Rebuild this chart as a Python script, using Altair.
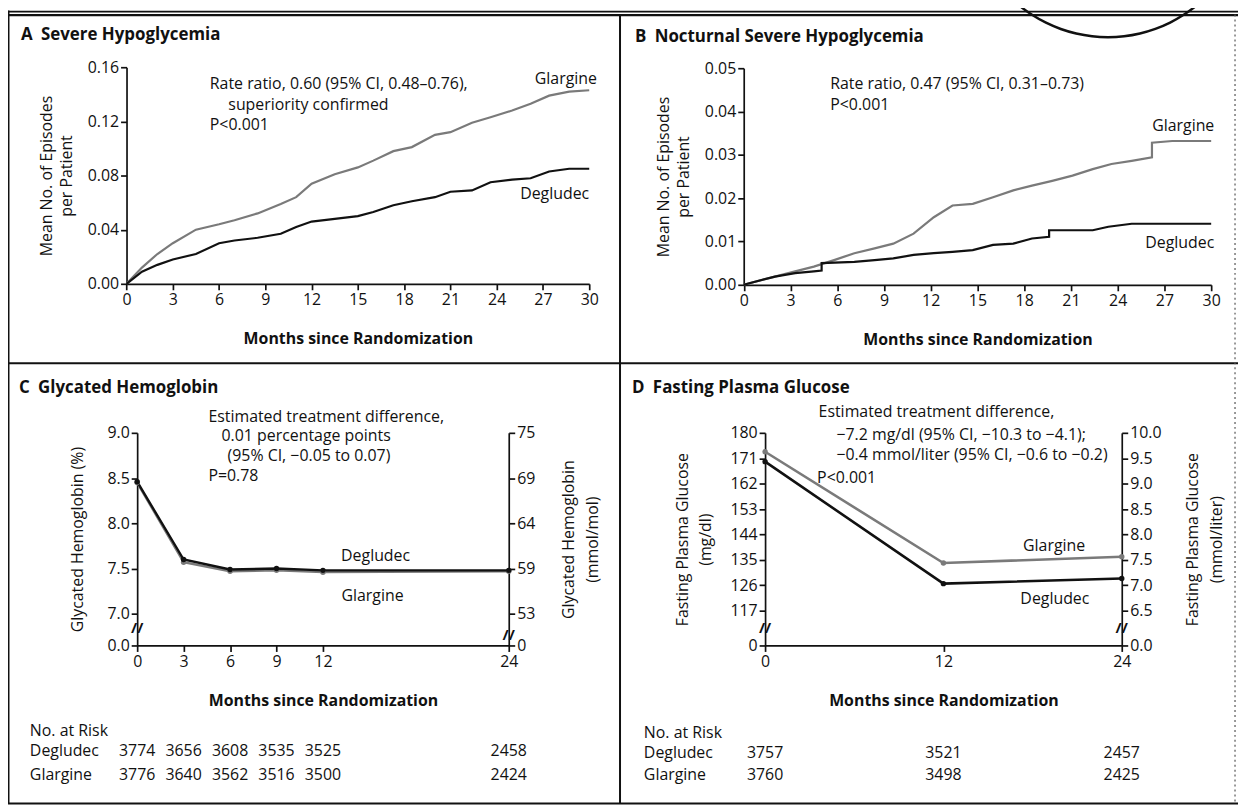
import altair as alt
import pandas as pd

FONT = "Open Sans"
W, H = 1238, 802
INK = "#111111"

# ---------------- data ----------------
A_months = [0, 1, 2, 3, 4.5, 6, 7, 8.5, 10, 11, 12, 13.5, 15, 16, 17.3, 18.5, 20, 21, 22.4, 23.6, 25, 26.2, 27.4, 28.7, 30]
A_glargine = [0, 0.012, 0.022, 0.030, 0.040, 0.044, 0.047, 0.052, 0.059, 0.064, 0.074, 0.081, 0.086, 0.091, 0.098,
              0.101, 0.110, 0.112, 0.119, 0.123, 0.128, 0.133, 0.139, 0.142, 0.143]
A_degludec = [0, 0.009, 0.014, 0.018, 0.022, 0.030, 0.032, 0.034, 0.037, 0.042, 0.046, 0.048, 0.050, 0.053, 0.058,
              0.061, 0.064, 0.068, 0.069, 0.075, 0.077, 0.078, 0.083, 0.085, 0.085]

B_months_gla = [0, 2, 3.3, 4.5, 5.8, 7.1, 8.4, 9.6, 10.9, 12.2, 13.4, 14.7, 16, 17.3, 18.5, 19.8, 21.1, 22.4, 23.6,
                24.9, 26.2, 26.2, 27.5, 30]
B_glargine = [0, 0.0019, 0.0031, 0.0042, 0.0057, 0.0073, 0.0084, 0.0095, 0.0118, 0.0156, 0.0183, 0.0187, 0.0202,
              0.0218, 0.0229, 0.0240, 0.0252, 0.0267, 0.0279, 0.0286, 0.0294, 0.0328, 0.0332, 0.0332]
B_months_deg = [0, 2, 3.3, 4.5, 5.0, 5.0, 7.1, 8.4, 9.6, 10.9, 12.2, 13.4, 14.7, 16, 17.3, 18.5, 19.6, 19.6, 22.4,
                23.4, 24.9, 30]
B_degludec = [0, 0.0019, 0.0027, 0.0031, 0.0033, 0.0050, 0.0053, 0.0057, 0.0061, 0.0069, 0.0073, 0.0076, 0.0080,
              0.0092, 0.0095, 0.0107, 0.0111, 0.0126, 0.0126, 0.0134, 0.0141, 0.0141]

C_months = [0, 3, 6, 9, 12, 24]
C_degludec = [8.46, 7.60, 7.49, 7.50, 7.48, 7.48]
C_glargine = [8.45, 7.57, 7.47, 7.48, 7.46, 7.47]

D_months = [0, 12, 24]
D_degludec = [169.8, 126.6, 128.4]
D_glargine = [173.3, 133.9, 136.1]

C_risk_months = [0, 3, 6, 9, 12, 24]
C_risk_degludec = [3774, 3656, 3608, 3535, 3525, 2458]
C_risk_glargine = [3776, 3640, 3562, 3516, 3500, 2424]
D_risk_months = [0, 12, 24]
D_risk_degludec = [3757, 3521, 2457]
D_risk_glargine = [3760, 3498, 2425]

GROUPS = ["Degludec", "Glargine"]
COLORS = ["#111111", "#7a7a7a"]

TXT = 16      # annotation / label size
TITLE = 17    # panel title size


def long_df(series):
    rows = []
    for name, ms, vs in series:
        for i, (m, v) in enumerate(zip(ms, vs)):
            rows.append({"month": m, "value": v, "group": name, "idx": i})
    return pd.DataFrame(rows)


def risk_df(months, counts):
    return pd.DataFrame({"month": months, "n": counts})


ONE = alt.Data(values=[{"k": 0}])

AX = dict(domainColor=INK, domainWidth=1.7, tickColor=INK, tickWidth=1.7, tickSize=6,
          labelFont=FONT, labelFontSize=TXT, labelColor=INK, labelPadding=2,
          titleFont=FONT, titleFontSize=TXT, titleColor=INK,
          grid=False, labelFlush=False, labelOverlap=False)

COLOR = alt.Color("group:N", scale=alt.Scale(domain=GROUPS, range=COLORS), legend=None)


def scale(dom, rng):
    return alt.Scale(domain=dom, range=rng, nice=False, zero=False)


def xaxis(values, offset):
    return alt.Axis(values=values, orient="bottom", offset=offset, format="d",
                    title="Months since Randomization", titlePadding=23, titleFontWeight="bold", **AX)


def ann(sx, sy, lines, x, y, size=TXT, weight="normal", align="left", lh=20.5):
    return alt.Chart(ONE).mark_text(
        text=lines, align=align, baseline="middle", font=FONT, fontSize=size,
        fontWeight=weight, lineHeight=lh, color=INK
    ).encode(x=alt.XDatum(x, scale=sx, axis=None), y=alt.YDatum(y, scale=sy, axis=None))


def fixed_text(lines, x, y, size=TXT, weight="normal", align="left", lh=20.5):
    return alt.Chart(ONE).mark_text(
        text=lines, align=align, baseline="middle", font=FONT, fontSize=size,
        fontWeight=weight, lineHeight=lh, color=INK
    ).encode(x=alt.value(x), y=alt.value(y))


def risk_row(sx, months, counts, ypix):
    return alt.Chart(risk_df(months, counts)).mark_text(
        font=FONT, fontSize=TXT, color=INK, align="center", baseline="middle").encode(
        x=alt.X("month:Q", scale=sx, axis=None), y=alt.value(ypix), text=alt.Text("n:Q", format="d"))


layers = []

# ---------------- panel A ----------------
A_x = [119.3, 585]
A_y = [275, 57]
SXA = scale([0, 30], A_x)
SYA = scale([0, 0.16], A_y)
dfA = long_df([("Glargine", A_months, A_glargine), ("Degludec", A_months, A_degludec)])
layers.append(alt.Chart(dfA).mark_line(strokeWidth=2.2).encode(
    x=alt.X("month:Q", scale=SXA, axis=xaxis(list(range(0, 31, 3)), A_y[0] - H)),
    y=alt.Y("value:Q", scale=SYA,
            axis=alt.Axis(values=[0, 0.04, 0.08, 0.12, 0.16], format=".2f", orient="left",
                          offset=-A_x[0], title=["Mean No. of Episodes", "per Patient"],
                          titlePadding=13, titleFontWeight="normal", titleLineHeight=20, **AX)),
    color=COLOR, order="idx:Q"))
layers += [
    ann(SXA, SYA, ["Rate ratio, 0.60 (95% CI, 0.48\u20130.76),"], 5.4, 0.1475),
    ann(SXA, SYA, ["superiority confirmed"], 6.6, 0.132),
    ann(SXA, SYA, ["P<0.001"], 5.4, 0.117),
    ann(SXA, SYA, ["Glargine"], 30.5, 0.151, align="right"),
    ann(SXA, SYA, ["Degludec"], 30.0, 0.066, align="right"),
]

# ---------------- panel B ----------------
B_x = [740.5, 1211]
B_y = [276, 58]
SXB = scale([0, 30], B_x)
SYB = scale([0, 0.05], B_y)
dfB = long_df([("Glargine", B_months_gla, B_glargine), ("Degludec", B_months_deg, B_degludec)])
layers.append(alt.Chart(dfB).mark_line(strokeWidth=2.2).encode(
    x=alt.X("month:Q", scale=SXB, axis=xaxis(list(range(0, 31, 3)), B_y[0] - H)),
    y=alt.Y("value:Q", scale=SYB,
            axis=alt.Axis(values=[0, 0.01, 0.02, 0.03, 0.04, 0.05], format=".2f", orient="left",
                          offset=-B_x[0], title=["Mean No. of Episodes", "per Patient"],
                          titlePadding=13, titleFontWeight="normal", titleLineHeight=20, **AX)),
    color=COLOR, order="idx:Q"))
layers += [
    ann(SXB, SYB, ["Rate ratio, 0.47 (95% CI, 0.31\u20130.73)", "P<0.001"], 5.55, 0.0463),
    ann(SXB, SYB, ["Glargine"], 30.2, 0.0367, align="right"),
    ann(SXB, SYB, ["Degludec"], 30.2, 0.0096, align="right"),
]

# ---------------- panel C ----------------
C_x = [130, 504]
C_y = [639, 425]
C_dom = [6.65, 9.0]
C_ticks = [6.65, 7.0, 7.5, 8.0, 8.5, 9.0]
SXC = scale([0, 24], C_x)
SYC = scale(C_dom, C_y)
dfC = long_df([("Glargine", C_months, C_glargine), ("Degludec", C_months, C_degludec)])
layers.append(alt.Chart(dfC).mark_line(strokeWidth=2.4).encode(
    x=alt.X("month:Q", scale=SXC, axis=xaxis([0, 3, 6, 9, 12, 24], C_y[0] - H)),
    y=alt.Y("value:Q", scale=SYC,
            axis=alt.Axis(values=C_ticks, orient="left", offset=-C_x[0],
                          labelExpr="datum.value < 6.9 ? '0.0' : format(datum.value, '.1f')",
                          title="Glycated Hemoglobin (%)", titlePadding=22, titleFontWeight="normal", **AX)),
    color=COLOR, order="idx:Q"))
layers.append(alt.Chart(dfC).mark_line(opacity=0).encode(
    x=alt.X("month:Q", scale=SXC, axis=None),
    y=alt.Y("value:Q", scale=SYC,
            axis=alt.Axis(values=C_ticks, orient="right", offset=C_x[1] - W,
                          labelExpr="datum.value > 8.9 ? '75' : datum.value > 8.4 ? '69' : datum.value > 7.9 ? '64' : datum.value > 7.4 ? '59' : datum.value > 6.9 ? '53' : '0'",
                          title=["Glycated Hemoglobin", "(mmol/mol)"], titleAngle=270, titlePadding=18,
                          titleLineHeight=24, titleFontWeight="normal", **AX)),
    detail="group:N"))
layers += [
    alt.Chart(dfC).mark_point(filled=True, size=30, opacity=1).encode(
        x=alt.X("month:Q", scale=SXC, axis=None), y=alt.Y("value:Q", scale=SYC, axis=None), color=COLOR),
    ann(SXC, SYC, ["Estimated treatment difference,"], 4.6, 9.18),
    ann(SXC, SYC, ["0.01 percentage points"], 5.45, 8.96),
    ann(SXC, SYC, ["(95% CI, \u22120.05 to 0.07)"], 5.84, 8.74),
    ann(SXC, SYC, ["P=0.78"], 4.6, 8.52),
    ann(SXC, SYC, ["Degludec"], 15.4, 7.64, align="center"),
    ann(SXC, SYC, ["Glargine"], 15.2, 7.20, align="center"),
    ann(SXC, SYC, ["//"], 0, 6.84, size=15, weight="bold", align="center"),
    ann(SXC, SYC, ["//"], 24, 6.76, size=15, weight="bold", align="center"),
    risk_row(SXC, C_risk_months, C_risk_degludec, 745),
    risk_row(SXC, C_risk_months, C_risk_glargine, 769),
]

# ---------------- panel D ----------------
D_x = [762, 1121]
D_y = [639, 425]
D_dom = [104.7, 180]
D_ticks = [104.7, 117, 126, 135, 144, 153, 162, 171, 180]
SXD = scale([0, 24], D_x)
SYD = scale(D_dom, D_y)
dfD = long_df([("Glargine", D_months, D_glargine), ("Degludec", D_months, D_degludec)])
layers.append(alt.Chart(dfD).mark_line(strokeWidth=2.6).encode(
    x=alt.X("month:Q", scale=SXD, axis=xaxis([0, 12, 24], D_y[0] - H)),
    y=alt.Y("value:Q", scale=SYD,
            axis=alt.Axis(values=D_ticks, orient="left", offset=-D_x[0],
                          labelExpr="datum.value < 110 ? '0' : format(datum.value, 'd')",
                          title=["Fasting Plasma Glucose", "(mg/dl)"], titlePadding=16,
                          titleLineHeight=24, titleFontWeight="normal", **AX)),
    color=COLOR, order="idx:Q"))
layers.append(alt.Chart(dfD).mark_line(opacity=0).encode(
    x=alt.X("month:Q", scale=SXD, axis=None),
    y=alt.Y("value:Q", scale=SYD,
            axis=alt.Axis(values=D_ticks, orient="right", offset=D_x[1] - W,
                          labelExpr="datum.value < 110 ? '0.0' : format(datum.value / 18, '.1f')",
                          title=["Fasting Plasma Glucose", "(mmol/liter)"], titleAngle=270, titlePadding=16,
                          titleLineHeight=24, titleFontWeight="normal", **AX)),
    detail="group:N"))
layers += [
    alt.Chart(dfD).mark_point(filled=True, size=30, opacity=1).encode(
        x=alt.X("month:Q", scale=SXD, axis=None), y=alt.Y("value:Q", scale=SYD, axis=None), color=COLOR),
    ann(SXD, SYD, ["Estimated treatment difference,"], 3.6, 187.2),
    ann(SXD, SYD, ["\u22127.2 mg/dl (95% CI, \u221210.3 to \u22124.1);",
                   "\u22120.4 mmol/liter (95% CI, \u22120.6 to \u22120.2)"], 4.8, 179.3, lh=20),
    ann(SXD, SYD, ["P<0.001"], 3.5, 164.0),
    ann(SXD, SYD, ["Glargine"], 19.45, 139.9, align="center"),
    ann(SXD, SYD, ["Degludec"], 19.5, 121.2, align="center"),
    ann(SXD, SYD, ["//"], 0, 111, size=15, weight="bold", align="center"),
    ann(SXD, SYD, ["//"], 24, 111, size=15, weight="bold", align="center"),
    risk_row(SXD, D_risk_months, D_risk_degludec, 747),
    risk_row(SXD, D_risk_months, D_risk_glargine, 769),
]


# ---------------- frame, titles, risk labels ----------------
def hrule(y, x1, x2, w=2.0, color=INK, dash=None):
    kw = dict(color=color, strokeWidth=w)
    if dash:
        kw["strokeDash"] = dash
    return alt.Chart(ONE).mark_rule(**kw).encode(x=alt.value(x1), x2=alt.value(x2), y=alt.value(y))


def vrule(x, y1, y2, w=2.0, color=INK, dash=None):
    kw = dict(color=color, strokeWidth=w)
    if dash:
        kw["strokeDash"] = dash
    return alt.Chart(ONE).mark_rule(**kw).encode(x=alt.value(x), y=alt.value(y1), y2=alt.value(y2))


layers += [
    hrule(1, 0, W, 1.8),
    hrule(4.5, 0, W, 2.2),
    vrule(0.5, 0, 798, 2.0),
    vrule(616, 4, 798, 2.0),
    hrule(355, 0, W, 2.0),
    hrule(798, 0, W, 2.0),
    vrule(1235, 4, 798, 1.2, "#555555", [2, 3]),
    alt.Chart(ONE).mark_arc(radius=142, radius2=139.5, theta=2.22, theta2=4.06, color=INK).encode(
        x=alt.value(1107), y=alt.value(-114)),
    fixed_text(["A\u2002Severe Hypoglycemia"], 13, 25, size=TITLE, weight="bold"),
    fixed_text(["B\u2002Nocturnal Severe Hypoglycemia"], 631, 27, size=TITLE, weight="bold"),
    fixed_text(["C\u2002Glycated Hemoglobin"], 11, 380, size=TITLE, weight="bold"),
    fixed_text(["D\u2002Fasting Plasma Glucose"], 628, 380, size=TITLE, weight="bold"),
    fixed_text(["No. at Risk"], 22, 725),
    fixed_text(["Degludec", "Glargine"], 22, 745, lh=24),
    fixed_text(["No. at Risk"], 640, 727),
    fixed_text(["Degludec", "Glargine"], 640, 747, lh=22),
]

chart = alt.layer(*layers).resolve_scale(
    x="independent", y="independent"
).properties(
    width=W, height=H, autosize="none", padding=0, background="white"
).configure_view(stroke=None)

chart.save("out.html", embed_options={"renderer": "svg", "actions": False})
